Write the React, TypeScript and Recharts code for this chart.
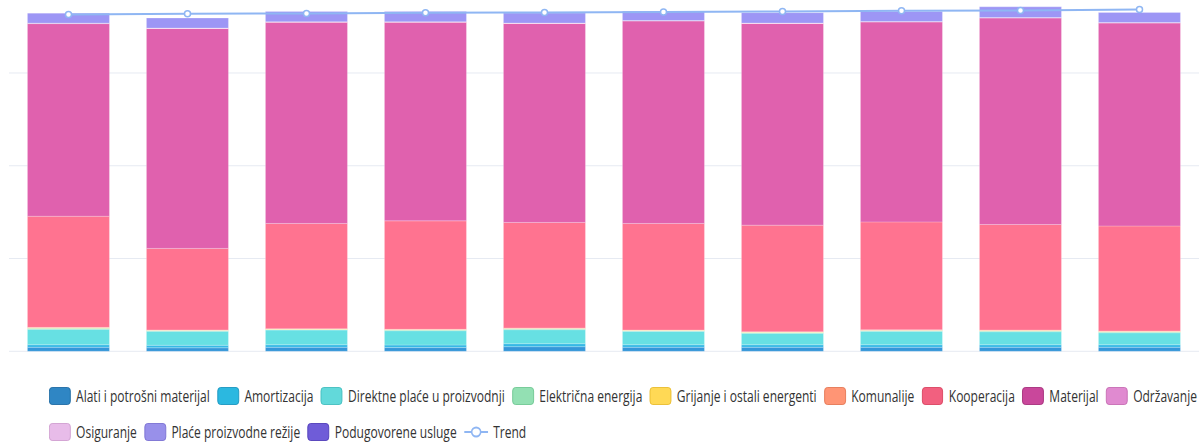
import React from 'react';
import { ComposedChart, Bar, Line, XAxis, YAxis, CartesianGrid } from 'recharts';

const categories = ['P1', 'P2', 'P3', 'P4', 'P5', 'P6', 'P7', 'P8', 'P9', 'P10'];

const alati = [4.3, 3.8, 4.3, 4.0, 5.0, 4.3, 4.3, 4.3, 4.3, 4.3];
const amortizacija = [2.8, 2.7, 2.8, 2.8, 3.2, 2.8, 2.8, 2.8, 2.8, 2.8];
const direktne = [16.6, 15.1, 15.8, 15.4, 15.1, 14.4, 12.3, 14.4, 14.0, 12.9];
const elektricna = [1.1, 0.7, 0.7, 0.8, 0.9, 0.7, 0.9, 0.9, 0.9, 0.9];
const grijanje = [0.5, 0.4, 0.4, 0.4, 0.5, 0.4, 0.4, 0.4, 0.5, 0.5];
const komunalije = [0.5, 0.3, 0.3, 0.3, 0.4, 0.3, 0.4, 0.4, 0.4, 0.4];
const kooperacija = [119.8, 87.9, 113.5, 116.9, 113.8, 114.9, 114.9, 116.3, 113.8, 113.3];
const materijal = [207.6, 237.0, 216.9, 214.1, 214.4, 218.3, 217.3, 215.5, 222.6, 218.8];
const odrzavanje = [0.3, 0.3, 0.3, 0.3, 0.3, 0.3, 0.3, 0.3, 0.3, 0.3];
const osiguranje = [0.2, 0.2, 0.2, 0.2, 0.2, 0.2, 0.2, 0.2, 0.2, 0.2];
const placeRezije = [10.8, 10.8, 11.1, 11.1, 10.8, 10.0, 11.2, 10.8, 11.5, 10.8];
const podugovorene = [0, 0, 0, 0, 0, 0, 0, 0, 0, 0];
const trend = [363.1, 363.8, 364.2, 364.9, 365.2, 365.6, 366.3, 367.1, 367.4, 368.5];

const yTicks = [0, 100, 200, 300, 400];
const boundaryTicks = [0, 1, 2, 3, 4, 5, 6, 7, 8, 9, 10];

const series = [
  { key: 'alati', name: 'Alati i potrošni materijal', fill: '#3597d9', icon: '#2f86c4', border: '#1f6aa3' },
  { key: 'amortizacija', name: 'Amortizacija', fill: '#36b9e6', icon: '#2bb8e0', border: '#1a95bd' },
  { key: 'direktne', name: 'Direktne plaće u proizvodnji', fill: '#67e0e3', icon: '#62d9da', border: '#41bcbd' },
  { key: 'elektricna', name: 'Električna energija', fill: '#9fe6b8', icon: '#93e0b3', border: '#6fc792' },
  { key: 'grijanje', name: 'Grijanje i ostali energenti', fill: '#ffdb5c', icon: '#ffd955', border: '#e8bb2c' },
  { key: 'komunalije', name: 'Komunalije', fill: '#ff9f7f', icon: '#ff9575', border: '#e47754' },
  { key: 'kooperacija', name: 'Kooperacija', fill: '#ff7390', icon: '#f2607f', border: '#d9435f' },
  { key: 'materijal', name: 'Materijal', fill: '#e061ae', icon: '#c9479b', border: '#a52e7a' },
  { key: 'odrzavanje', name: 'Održavanje', fill: '#e690d1', icon: '#e08ad0', border: '#c56bb2' },
  { key: 'osiguranje', name: 'Osiguranje', fill: '#e7bcf3', icon: '#e8bce9', border: '#d09ed0' },
  { key: 'placeRezije', name: 'Plaće proizvodne režije', fill: '#9d96f5', icon: '#9890ea', border: '#7a70d2' },
  { key: 'podugovorene', name: 'Podugovorene usluge', fill: '#8378ea', icon: '#6f5cd8', border: '#4f3cb8' },
];

const seriesValues: Record<string, number[]> = {
  alati, amortizacija, direktne, elektricna, grijanje, komunalije,
  kooperacija, materijal, odrzavanje, osiguranje, placeRezije, podugovorene,
};

const data = categories.map((c, i) => {
  const row: Record<string, any> = { cat: c, trend: trend[i] };
  series.forEach((s) => { row[s.key] = seriesValues[s.key][i]; });
  return row;
});

const trendColor = '#8fb6f3';

const legendRow1 = ['alati', 'amortizacija', 'direktne', 'elektricna', 'grijanje', 'komunalije', 'kooperacija', 'materijal', 'odrzavanje'];
const legendRow2 = ['osiguranje', 'placeRezije', 'podugovorene', 'trend'];

const fontFamily = '"Open Sans", "Noto Sans", sans-serif';
const SX = 0.776;

function LegendItem({ k }: { k: string }) {
  const s = series.find((q) => q.key === k);
  const textStyle: React.CSSProperties = { fontSize: 15.5, color: '#333', fontFamily, whiteSpace: 'nowrap', lineHeight: '18px' };
  if (!s) {
    return (
      <div style={{ display: 'flex', alignItems: 'center', height: 18, flex: 'none' }}>
        <svg width={24 / SX} height={18} style={{ marginRight: 5 / SX }}>
          <line x1={0} y1={9} x2={24 / SX} y2={9} stroke={trendColor} strokeWidth={2} />
          <ellipse cx={12 / SX} cy={9} rx={4.5 / SX} ry={4.5} fill="#fff" stroke={trendColor} strokeWidth={2} />
        </svg>
        <span style={textStyle}>Trend</span>
      </div>
    );
  }
  return (
    <div style={{ display: 'flex', alignItems: 'center', height: 18, marginRight: 7.5 / SX, flex: 'none' }}>
      <div style={{ width: 20 / SX, height: 16, borderRadius: 4, background: s.icon, border: `1px solid ${s.border}`, marginRight: 5.5 / SX, flex: 'none' }} />
      <span style={textStyle}>{s.name}</span>
    </div>
  );
}

function LegendRow({ keys, y }: { keys: string[]; y: number }) {
  return (
    <div style={{ position: 'absolute', left: 49, top: y - 9, display: 'flex', flexWrap: 'nowrap', transform: `scaleX(${SX})`, transformOrigin: '0 0', width: 2000 }}>
      {keys.map((k) => <LegendItem key={k} k={k} />)}
    </div>
  );
}

export default function App() {
  return (
    <div style={{ position: 'absolute', left: 0, top: 0, width: 1203, height: 442, overflow: 'hidden', background: '#fff' }}>
      <div style={{ position: 'absolute', left: 0, top: -40 }}>
        <ComposedChart
          width={1203}
          height={420}
          data={data}
          margin={{ top: 20.2, right: 4, left: 9, bottom: 18.7 }}
          barCategoryGap="15.5%"
        >
          <CartesianGrid xAxisId="cat" vertical={false} stroke="#e6eaf2" />
          <XAxis xAxisId="cat" dataKey="cat" hide />
          <XAxis
            xAxisId="num"
            type="number"
            domain={[0, 10]}
            ticks={boundaryTicks}
            allowDataOverflow
            tick={false}
            tickSize={5}
            height={10}
            axisLine={{ stroke: '#aeb3bb' }}
            tickLine={{ stroke: '#aeb3bb' }}
          />
          <YAxis hide domain={[0, 400]} ticks={yTicks} />
          {series.map((s) => (
            <Bar
              key={s.key}
              xAxisId="cat"
              dataKey={s.key}
              name={s.name}
              stackId="a"
              fill={s.fill}
              stroke="rgba(255,255,255,0.22)"
              strokeWidth={1}
              isAnimationActive={false}
            />
          ))}
          <Line
            xAxisId="cat"
            dataKey="trend"
            name="Trend"
            stroke={trendColor}
            strokeWidth={2}
            dot={{ r: 3, fill: '#fff', stroke: trendColor, strokeWidth: 1.5 }}
            isAnimationActive={false}
          />
        </ComposedChart>
      </div>
      <LegendRow keys={legendRow1} y={396} />
      <LegendRow keys={legendRow2} y={432} />
    </div>
  );
}
